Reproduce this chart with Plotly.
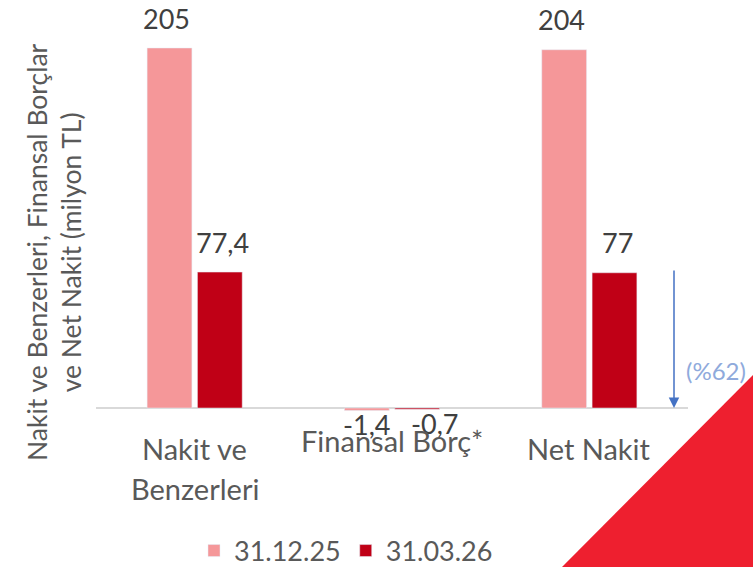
import plotly.graph_objects as go

categories = ["Nakit ve<br>Benzerleri", "Finansal Borç*", "Net Nakit"]
series_names = ["31.12.25", "31.03.26"]
values_2025 = [205, -1.4, 204]
values_2026 = [77.4, -0.7, 77]
labels_2025 = ["205", "-1,4", "204"]
labels_2026 = ["77,4", "-0,7", "77"]
colors = ["#F59799", "#C00016"]

FONT = "Lato"
W, H = 753, 567
ML, MR, MT, MB = 96, 65, 5, 147
PW, PH = W - ML - MR, H - MT - MB

def px(x):
    return (x - ML) / PW

def py(y):
    return (H - MB - y) / PH

fig = go.Figure()
for name, vals, col in zip(series_names, [values_2025, values_2026], colors):
    fig.add_trace(go.Bar(x=categories, y=vals, name=name, marker_color=col))

ppu = (408 - 48) / 205.0
ymax = (408 - MT) / ppu
ymin = -((H - MB) - 408) / ppu

fig.update_layout(
    width=W, height=H,
    margin=dict(l=ML, r=MR, t=MT, b=MB, autoexpand=False),
    paper_bgcolor="white", plot_bgcolor="white",
    barmode="group", bargap=0.49, bargroupgap=0.11,
    font=dict(family=FONT, color="#595959"),
    showlegend=True,
    legend=dict(orientation="h", x=px(346), xanchor="center", y=py(551),
                yanchor="middle", font=dict(family=FONT, size=27, color="#595959")),
    xaxis=dict(showgrid=False, showline=False, ticks="", showticklabels=False),
    yaxis=dict(range=[ymin, ymax], showgrid=False, zeroline=True,
               zerolinecolor="#D9D9D9", zerolinewidth=2,
               showticklabels=False, showline=False),
)

# data labels
for si, (vals, labs) in enumerate([(values_2025, labels_2025), (values_2026, labels_2026)]):
    for cat, v, lab in zip(categories, vals, labs):
        if v > 0:
            xs = -28 if si == 0 else 28
        else:
            xs = -26 if si == 0 else 42
        fig.add_annotation(
            x=cat, y=v, xref="x", yref="y", text=lab, showarrow=False,
            xanchor="center", yanchor="middle", xshift=xs,
            yshift=30 if v > 0 else -14,
            font=dict(family=FONT, size=27, color="#404040"),
        )

# category labels
for cat in categories:
    lines = cat.split("<br>")
    y0 = 440 if cat.startswith("Finansal") else 448
    for i, line in enumerate(lines):
        fig.add_annotation(
            x=cat, xref="x", yref="paper", y=py(y0 + 40 * i), text=line,
            showarrow=False, xanchor="center", yanchor="middle",
            font=dict(family=FONT, size=29, color="#595959"),
        )

# y-axis title
fig.add_annotation(
    text="Nakit ve Benzerleri, Finansal Borçlar<br>ve Net Nakit (milyon TL)",
    xref="paper", yref="paper", x=px(54), y=py(252), textangle=-90,
    showarrow=False, xanchor="center", yanchor="middle",
    font=dict(family=FONT, size=26.5, color="#595959"),
)

# arrow
fig.add_annotation(
    xref="paper", yref="y", x=px(674), y=0, ax=0, ay=-139,
    axref="pixel", ayref="pixel", text="", showarrow=True,
    arrowhead=2, arrowsize=1.4, arrowwidth=1.5, arrowcolor="#4472C4",
    standoff=0,
)
fig.add_annotation(
    text="(%62)", xref="paper", yref="paper", x=px(716), y=py(370),
    showarrow=False, xanchor="center", yanchor="middle",
    font=dict(family=FONT, size=24, color="#8FAADC"),
)

# red corner triangle
fig.add_shape(
    type="path", xref="paper", yref="paper", layer="above",
    path=f"M {px(562)} {py(567)} L {px(753)} {py(375)} L {px(753)} {py(567)} Z",
    fillcolor="#EE1F2F", line=dict(width=0),
)

fig.write_html(
    "out.html",
    config={"displayModeBar": False},
    post_script="document.body.style.margin='0';document.body.style.overflow='hidden';",
)
